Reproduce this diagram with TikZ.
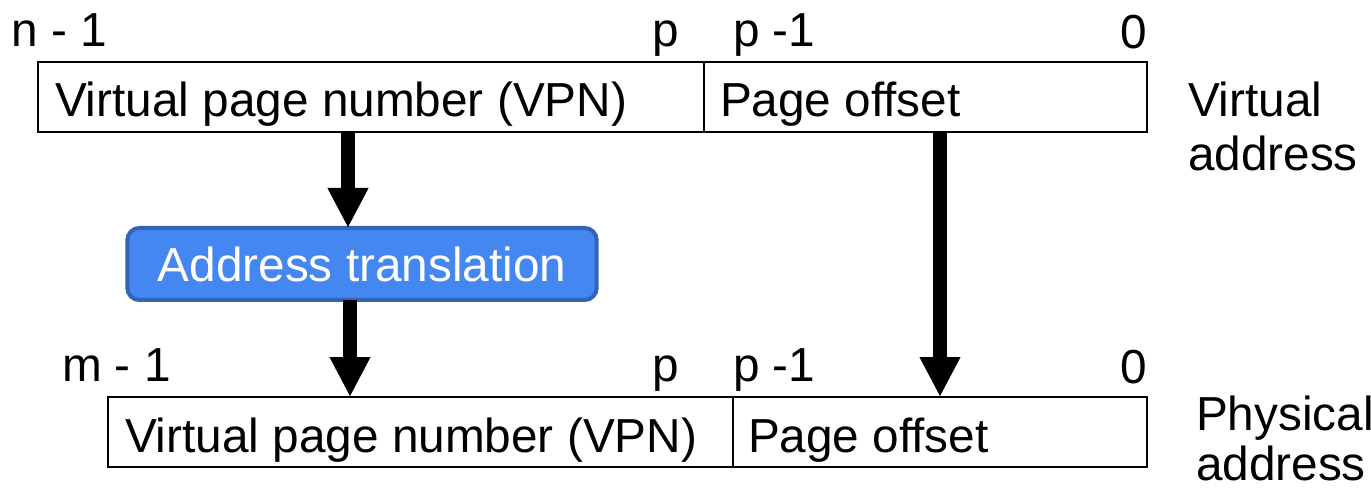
\documentclass[tikz,border=0pt]{standalone}
\usepackage{fontspec}
\setmainfont{Liberation Sans}
\usetikzlibrary{arrows.meta}
\definecolor{xferfill}{HTML}{4487F0}
\definecolor{xferedge}{HTML}{3464B8}
\begin{document}
\begin{tikzpicture}[x=0.75pt,y=-0.75pt,
  every node/.style={inner sep=0pt,outer sep=0pt,font=\fontsize{35.8}{42}\selectfont},
  field/.style={draw=black,line width=1.9pt,fill=white},
  lbl/.style={anchor=base west},
  lblr/.style={anchor=base east},
  bigarrow/.style={line width=10.5pt,-{Triangle[width=28.5pt,length=30pt]}},
  xferbox/.style={draw=xferedge,fill=xferfill,line width=3pt,rounded corners=9pt,
    text=white,minimum width=352pt,minimum height=54pt}]
\useasboundingbox (0,0) rectangle (1371,488);

% virtual address fields
\node[field,minimum width=499.5pt,minimum height=52.5pt] (vvpn) at (371,97) {};
\node[field,minimum width=332.25pt,minimum height=52.5pt] (voff) at (925.5,97) {};
\node[lbl] (vvpnt) at (55,117) {Virtual page number (VPN)};
\node[lbl] (vofft) at (720,117) {Page offset};
\node[lbl] (vhi) at (12,47) {n - 1};
\node[lblr] (vp) at (679,47) {p};
\node[lbl] (vpm) at (733,47) {p -1};
\node[lblr] (vz) at (1147,49) {0};
\node[lbl] (vname) at (1188,117) {Virtual};
\node[lbl] (vname2) at (1188,171) {address};

% translation step
\node[xferbox] (xfer) at (362,264) {Address translation};

% physical address fields
\node[field,minimum width=468.75pt,minimum height=52.5pt] (pvpn) at (420.5,432) {};
\node[field,minimum width=310.5pt,minimum height=52.5pt] (poff) at (940,432) {};
\node[lbl] (pvpnt) at (125,452) {Virtual page number (VPN)};
\node[lbl] (pofft) at (748,452) {Page offset};
\node[lbl] (phi) at (62,382) {m - 1};
\node[lblr] (pp) at (679,382) {p};
\node[lbl] (ppm) at (733,382) {p -1};
\node[lblr] (pz) at (1147,383) {0};
\node[lbl] (pname) at (1196,430) {Physical};
\node[lbl] (pname2) at (1196,480) {address};

% data flow
\coordinate (vpnx) at (348,0);
\coordinate (vpnx2) at (350,0);
\coordinate (offx) at (940,0);
\draw[bigarrow] (vpnx |- vvpn.south) -- (vpnx |- xfer.north);
\draw[bigarrow] (vpnx2 |- xfer.south) -- (vpnx2 |- pvpn.north);
\draw[bigarrow] (offx |- voff.south) -- (offx |- poff.north);
\end{tikzpicture}
\end{document}
